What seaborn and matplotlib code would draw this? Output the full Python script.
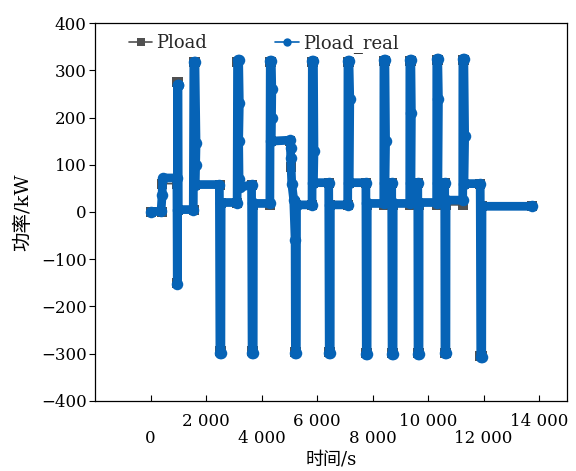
import matplotlib
matplotlib.use("Agg")
import matplotlib.pyplot as plt
from matplotlib.lines import Line2D
import pandas as pd
import seaborn as sns

sns.set_theme(style="white")
plt.rcParams["font.family"] = ["DejaVu Serif", "Noto Sans CJK SC"]
plt.rcParams["axes.unicode_minus"] = True

# Commanded load power profile: time (s) and power (kW) breakpoints
t_load = [
    0, 400, 400, 960, 960, 960, 1000, 1000,
    1550, 1550, 1600, 1600, 2490, 2490, 2530, 2530,
    3120, 3120, 3160, 3160, 3650, 3650, 3690, 3690,
    4310, 4310, 4350, 4350, 5040, 5060, 5200, 5200, 5240, 5240,
    5830, 5830, 5870, 5870, 6430, 6430, 6470, 6470,
    7110, 7110, 7150, 7150, 7760, 7760, 7800, 7800,
    8410, 8410, 8450, 8450, 8700, 8700, 8740, 8740,
    9340, 9340, 9380, 9380, 9630, 9630, 9670, 9670,
    10310, 10310, 10350, 10350, 10600, 10600, 10640, 10640,
    11250, 11250, 11290, 11290, 11890, 11890, 11930, 11930, 13750,
]
p_load = [
    0, 0, 60, 60, -150, 275, 275, 5,
    5, 318, 318, 58, 58, -295, -295, 18,
    18, 318, 318, 58, 58, -295, -295, 15,
    15, 318, 318, 150, 150, 95, 20, -296, -296, 15,
    15, 318, 318, 62, 62, -296, -296, 15,
    15, 318, 318, 62, 62, -298, -298, 15,
    15, 320, 320, 62, 62, -298, -298, 15,
    15, 320, 320, 62, 62, -298, -298, 15,
    15, 322, 322, 62, 62, -298, -298, 15,
    15, 322, 322, 60, 60, -305, -305, 12, 12,
]

# Measured load power: time (s) and power (kW)
t_real = [
    0, 380, 415, 440, 950, 965, 975, 990, 1000,
    1540, 1560, 1600, 1640, 1625, 1610, 2480,
    2500, 2535, 2545, 3120,
    3135, 3175, 3200, 3175, 3190, 3230, 3640,
    3660, 3700, 3705, 4300,
    4315, 4350, 4370, 4360, 4350, 5030, 5045, 5050, 5090, 5160, 5210, 5220, 5255, 5260, 5820,
    5830, 5870, 5890, 5870, 6420,
    6440, 6475, 6480, 7105,
    7115, 7150, 7180, 7160, 7760,
    7775, 7805, 7810, 8405,
    8410, 8445, 8470, 8450, 8690,
    8705, 8740, 8745, 9340,
    9345, 9380, 9400, 9385, 9630,
    9640, 9675, 9680, 10310,
    10315, 10350, 10375, 10355, 10600,
    10610, 10645, 10650, 11250,
    11255, 11290, 11320, 11295, 11880,
    11900, 11935, 11945, 13750,
]
p_real = [
    0, 2, 35, 72, 72, -152, 268, 268, 5,
    5, 318, 318, 145, 100, 58, 58,
    -298, -298, 20, 20,
    321, 321, 230, 150, 70, 52, 58,
    -298, -298, 18, 18,
    320, 320, 260, 200, 150, 152, 135, 115, 60, 25, -60, -298, -298, 15, 15,
    320, 320, 130, 62, 62,
    -298, -298, 15, 15,
    320, 320, 240, 62, 62,
    -300, -300, 18, 18,
    322, 322, 150, 62, 62,
    -300, -300, 18, 18,
    322, 322, 210, 62, 62,
    -300, -300, 20, 20,
    324, 324, 240, 62, 62,
    -298, -298, 25, 25,
    324, 324, 160, 60, 60,
    -307, -307, 12, 12,
]

y_ticks = [-400, -300, -200, -100, 0, 100, 200, 300, 400]
x_ticks_upper = [2000, 6000, 10000, 14000]
x_labels_upper = ["2 000", "6 000", "10 000", "14 000"]
x_ticks_lower = [0, 4000, 8000, 12000]
x_labels_lower = ["0", "4 000", "8 000", "12 000"]

GRAY = "#505050"
BLUE = "#0663b6"

df_load = pd.DataFrame({"t": t_load, "p": p_load})
df_real = pd.DataFrame({"t": t_real, "p": p_real})

fig = plt.figure(figsize=(5.76, 4.71), dpi=100)
ax = fig.add_axes([0.165, 0.149, 0.819, 0.802])

sns.lineplot(data=df_load, x="t", y="p", sort=False, estimator=None, ax=ax,
             color=GRAY, lw=1.2, marker="s", markersize=6.5, markeredgewidth=0,
             legend=False)
sns.lineplot(data=df_real, x="t", y="p", sort=False, estimator=None, ax=ax,
             color=BLUE, lw=6.3, marker="o", markersize=8.3, markeredgewidth=0,
             solid_joinstyle="round", solid_capstyle="round", legend=False)

ax.set_xlim(-2000, 15000)
ax.set_ylim(-400, 400)
ax.set_yticks(y_ticks)
ax.set_yticklabels([str(v) if v >= 0 else "\u2212" + str(-v) for v in y_ticks])

ax.set_xticks(x_ticks_upper)
ax.set_xticklabels(x_labels_upper)
ax.set_xticks(x_ticks_lower, minor=True)
ax.set_xticklabels(x_labels_lower, minor=True)

ax.tick_params(axis="x", which="major", bottom=True, top=False, direction="in",
               length=4, width=0.8, pad=8.5, labelsize=12, colors="black")
ax.tick_params(axis="x", which="minor", bottom=True, top=False, direction="in",
               length=4, width=0.8, pad=21, labelsize=12, colors="black")
ax.tick_params(axis="y", which="major", left=True, right=False, direction="out",
               length=4, width=0.8, pad=2, labelsize=12, colors="black")

for sp in ax.spines.values():
    sp.set_color("black")
    sp.set_linewidth(0.9)

ax.set_xlabel("时间/s", fontsize=13, labelpad=2.5, color="black")
ax.set_ylabel("功率/kW", fontsize=14, labelpad=6, color="black")

handles = [
    Line2D([], [], color=GRAY, lw=1.2, marker="s", markersize=6, markeredgewidth=0),
    Line2D([], [], color=BLUE, lw=1.2, marker="o", markersize=6, markeredgewidth=0),
]
ax.legend(handles, ["Pload", "Pload_real"], loc="upper left", bbox_to_anchor=(0.045, 1.004),
          ncol=2, frameon=False, fontsize=13, handlelength=1.3, handletextpad=0.2,
          columnspacing=3.8, borderaxespad=0.3)

fig.savefig("out.png", dpi=100)
